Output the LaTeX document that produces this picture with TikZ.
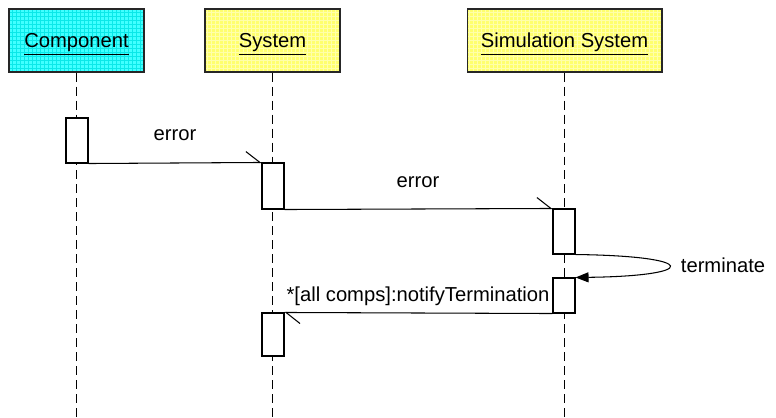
\documentclass[tikz,border=0pt]{standalone}
\usepackage{fontspec}
\setmainfont{Liberation Sans}
\usetikzlibrary{arrows.meta}
\definecolor{objcyan}{RGB}{64,255,255}
\definecolor{gridcyan}{RGB}{10,232,232}
\definecolor{objyellow}{RGB}{255,255,110}
\definecolor{gridyellow}{RGB}{255,255,170}

\begin{document}
\begin{tikzpicture}[x=0.02cm,y=-0.02cm,line width=0.6pt,
    font=\fontsize{11.5}{14}\selectfont,
    obj/.style={draw=black!85,minimum height=1.26cm,inner sep=0pt,text height=8.5pt,text depth=0pt},
    gridfill/.style={path picture={\draw[#1,line width=0.35pt] (path picture bounding box.south west) grid[step=0.08cm] (path picture bounding box.north east);}},
    act/.style={draw,fill=white,minimum width=0.44cm,inner sep=0pt},
    life/.style={dash pattern=on 0.18cm off 0.1cm},
    msg/.style={-{Straight Barb[left,length=0.28cm,width=0.44cm]}}]
  \useasboundingbox (0,0) rectangle (776,418);
  \coordinate (bot) at (0,418);
  % objects
  \node[obj,fill=objcyan,gridfill=gridcyan,minimum width=2.7cm] (comp) at (76.5,40.5) {\underline{Component}};
  \node[obj,fill=objyellow,gridfill=gridyellow,minimum width=2.7cm] (sys) at (272.5,40.5) {\underline{System}};
  \node[obj,fill=objyellow,gridfill=gridyellow,minimum width=3.9cm] (sim) at (564.5,40.5) {\underline{Simulation System}};
  % lifelines
  \draw[life] (comp.south) -- (comp.south |- bot);
  \draw[life] (sys.south) -- (sys.south |- bot);
  \draw[life] (sim.south) -- (sim.south |- bot);
  % activations
  \node[act,minimum height=0.9cm] (a1) at (77,140.5) {};
  \node[act,minimum height=0.92cm] (a2) at (273,186) {};
  \node[act,minimum height=0.9cm] (a3) at (564,231.5) {};
  \node[act,minimum height=0.7cm] (a4) at (564,295.5) {};
  \node[act,minimum height=0.86cm] (a5) at (273,334.5) {};
  % messages
  \draw[msg] (a1.south east) -- (a2.north west);
  \node (err1) at (175,135) {error};
  \draw[msg] (a2.south east) -- (a3.north west);
  \node (err2) at (418,182) {error};
  \draw[-{Triangle[length=0.26cm,width=0.2cm]}] (a3.south east) .. controls (700,256) and (700,276) .. (a4.north east);
  \node (term) at (723,265) {terminate};
  \draw[msg] (a4.south west) -- (a5.north east);
  \node (note) at (418,296) {*[all comps]:notifyTermination};
\end{tikzpicture}
\end{document}
